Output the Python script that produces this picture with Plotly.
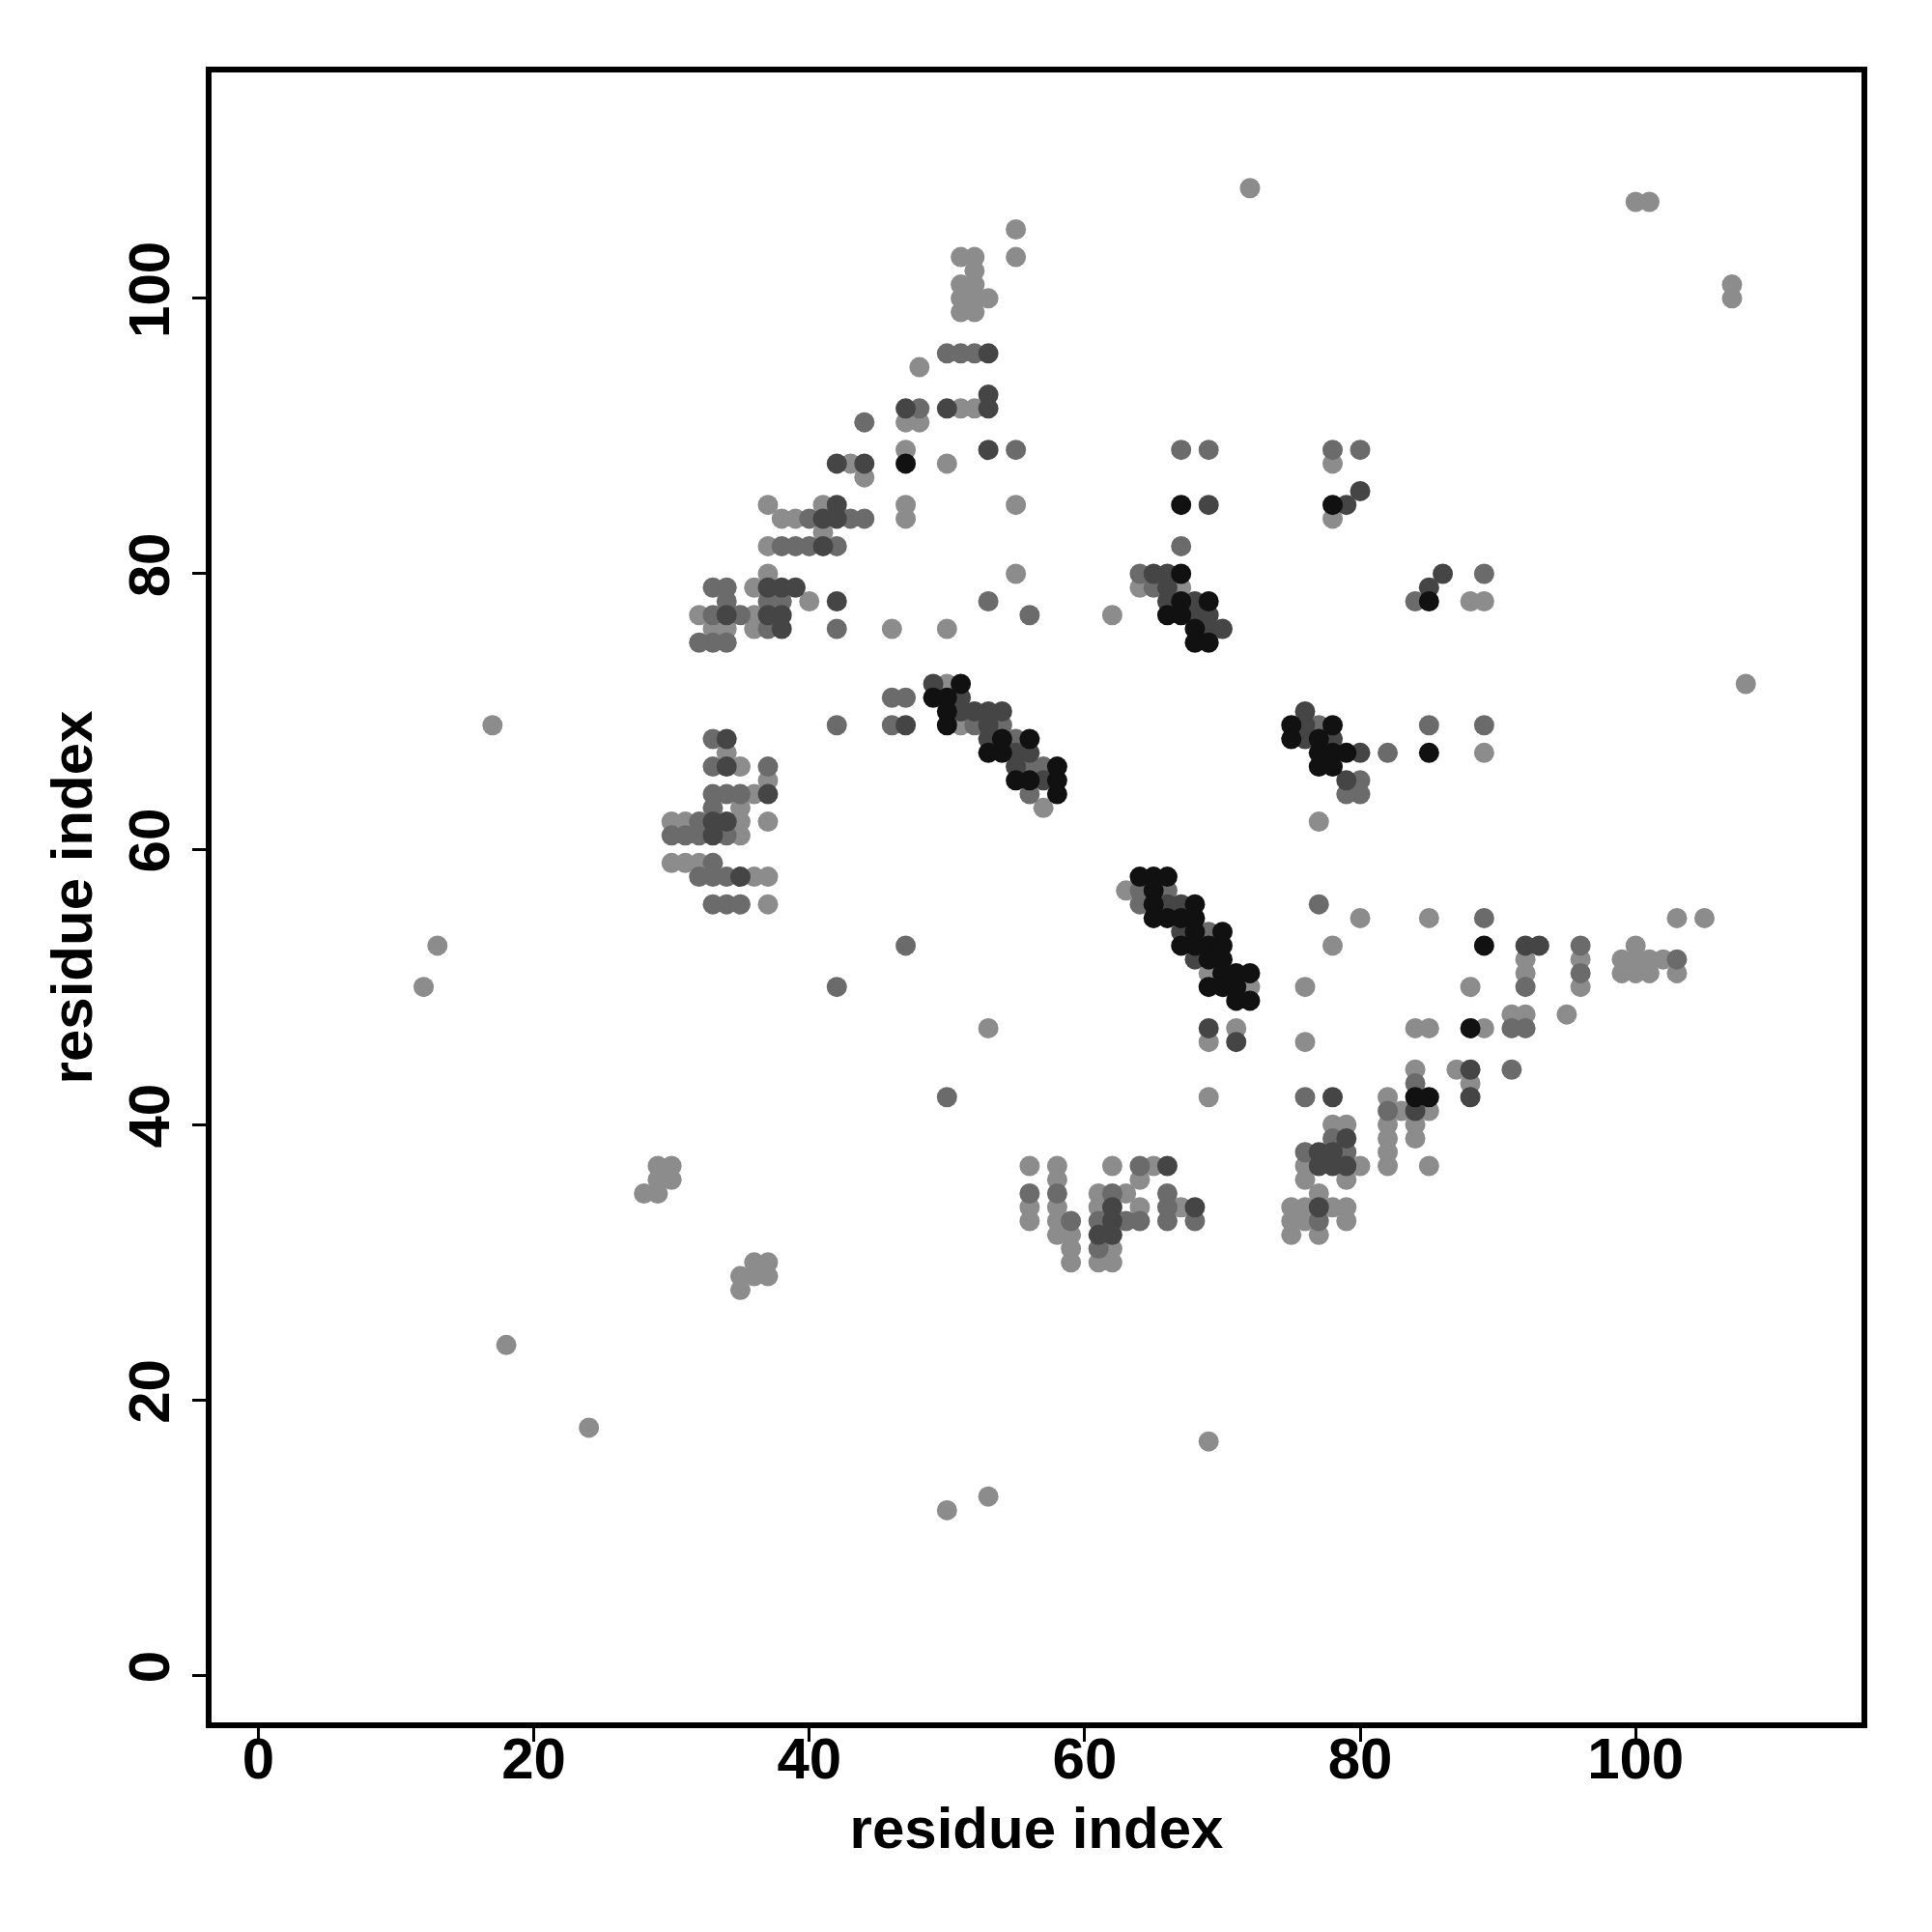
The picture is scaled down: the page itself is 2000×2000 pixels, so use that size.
import plotly.graph_objects as go

# Contact points grouped by grey shade (x = residue index, y = residue index)
light_x = [72,100,101,107,107,108,105,103,55,55,17,13,12,18,24,50,53,69,
           29,30,29,30,28,29,
           36,37,35,36,37,35,
           69,53,62,50,46,55,55,50,47,
           51,52,52,51,52,51,52,53,51,52,48,51,52,47,48,43,44,47,47,41,37,38,39,37,41,37,36,40,32,36,33,34,36,
           34,35,37,36,35,30,31,35,37,35,30,31,32,36,37,37,
           50,51,57,
           63,69,72,71,69,
           64,67,
           77,78,76,76,80,
           78,78,88,89,89,
           85,92,92,91,92,95,96,96,99,100,101,102,99,100,101,103,100,88,89,84,85,87,88,82,82,82,82,82,84,84,84,83,85,85,
           78,79,76,80,76,79,77,75,76,78,79,75,76,79,75,77,
           56,58,62,65,58,64,61,63,56,58,61,64,67,56,58,58,59,59,62,59,61,62]
light_y = [108,107,107,101,100,72,55,55,105,103,69,53,50,24,18,12,13,17,
           37,37,36,36,35,35,
           30,30,29,29,29,28,
           42,47,77,76,76,80,85,88,89,
           103,103,102,101,101,100,100,100,99,99,95,92,92,91,91,88,87,85,84,85,85,84,84,82,83,80,79,78,77,77,76,76,76,
           67,66,65,64,63,62,62,62,62,61,59,59,59,58,58,56,
           72,69,63,
           57,51,50,47,46,
           79,79,
           62,53,50,46,55,
           88,84,78,78,67,
           55,52,51,48,48,48,52,50,52,52,52,52,51,51,51,51,53,50,47,47,47,44,43,42,40,39,38,37,44,40,39,41,41,37,
           40,40,37,37,36,36,35,34,34,34,34,33,33,33,32,32,
           37,37,37,37,36,36,35,35,34,34,34,34,34,33,33,32,32,31,31,30,30,30]

mid_x = [50,42,47,56,53,42,55,
         50,51,52,48,44,43,44,40,38,39,40,42,33,34,34,33,35,37,37,38,32,33,34,42,
         33,33,37,33,34,35,33,32,30,31,32,34,33,32,33,34,33,34,35,
         46,47,46,52,54,55,56,57,56,
         64,66,64,69,
         64,65,67,67,69,
         77,80,79,80,82,77,
         78,80,84,89,85,89,
         89,92,91,92,96,96,103,91,82,84,
         76,78,76,79,77,
         64,56,58,62,66,66,59,61,63,64,66,68,61]
mid_y = [42,50,53,77,78,69,89,
         96,96,96,92,91,84,84,84,82,82,82,82,79,79,78,77,77,76,78,78,75,75,75,76,
         68,66,66,64,64,64,63,62,61,61,61,61,59,58,58,58,56,56,56,
         71,71,69,69,69,68,66,66,64,
         57,57,56,54,
         80,79,82,89,89,
         69,65,64,64,67,56,
         89,89,78,80,69,69,
         55,50,47,47,53,51,52,44,41,43,
         42,39,38,38,33,
         37,35,35,35,35,34,33,33,33,33,33,33,31]

dark_x = [53,53,53,50,53,47,42,44,42,41,42,41,37,38,39,34,37,38,38,42,
          34,34,37,33,34,33,35,
          47,49,51,51,52,53,54,53,53,55,56,55,57,
          66,67,67,68,69,71,
          65,66,66,66,68,68,69,69,70,69,
          76,76,78,76,80,79,
          79,80,85,86,
          92,93,88,88,84,
          78,79,77,78,77,78,79,77,
          66,62,68,62,61,62]
dark_y = [89,96,93,92,92,92,88,88,85,84,84,82,79,79,79,77,77,77,76,78,
          68,66,64,62,62,61,58,
          69,72,71,70,70,70,70,69,68,67,67,66,65,
          56,56,54,52,47,46,
          80,80,79,78,78,77,77,76,76,85,
          69,68,68,70,67,65,
          85,86,79,80,
          53,53,44,42,41,
          42,39,38,38,37,37,37,34,
          37,34,34,33,32,32]

black_x = [47,
           51,49,50,50,50,54,56,53,54,58,55,56,58,58,
           64,65,66,65,65,68,65,66,67,68,68,70,67,68,69,70,69,70,70,71,72,69,70,71,71,72,
           67,67,69,66,67,68,68,69,67,
           75,78,75,77,77,78,79,77,78,
           78,85,85,
           89,88,84,85]
black_y = [88,
           72,71,71,70,69,68,68,67,67,66,65,65,65,64,
           58,58,58,57,56,56,55,55,55,55,54,54,53,53,53,53,52,52,51,51,51,50,50,50,49,49,
           80,78,78,77,77,76,75,75,85,
           69,69,68,68,67,67,67,66,66,
           85,78,67,
           53,47,42,42]

groups = [
    (light_x, light_y, "#8c8c8c"),
    (mid_x, mid_y, "#6b6b6b"),
    (dark_x, dark_y, "#454545"),
    (black_x, black_y, "#111111"),
]

tick_vals = [0, 20, 40, 60, 80, 100]
axis_label = "residue index"

fig = go.Figure()
for gx, gy, col in groups:
    fig.add_trace(go.Scatter(
        x=gx, y=gy, mode="markers",
        marker=dict(size=21, color=col, line=dict(width=0)),
        showlegend=False, hoverinfo="x+y"))

font_family = "Liberation Sans, Arial, sans-serif"
axis_common = dict(
    range=[-3.4, 116.4], tickvals=tick_vals, ticktext=[str(v) for v in tick_vals],
    showgrid=False, zeroline=False, showline=True, mirror=True,
    linecolor="black", linewidth=6, ticks="outside", ticklen=14, tickwidth=3,
    tickcolor="black",
    tickfont=dict(family=font_family, size=60, color="black", weight="bold"),
    title=dict(text=axis_label,
               font=dict(family=font_family, size=60, color="black", weight="bold")),
)

fig.update_layout(
    width=2000, height=2000,
    margin=dict(l=211, r=81, t=67, b=225),
    paper_bgcolor="white", plot_bgcolor="white",
    xaxis=dict(**axis_common, ticklabelstandoff=-34),
    yaxis=dict(**axis_common, tickangle=-90, ticklabelstandoff=0),
)
fig.update_xaxes(title_standoff=20)
fig.update_yaxes(title_standoff=8)

fig.write_html("out.html")
